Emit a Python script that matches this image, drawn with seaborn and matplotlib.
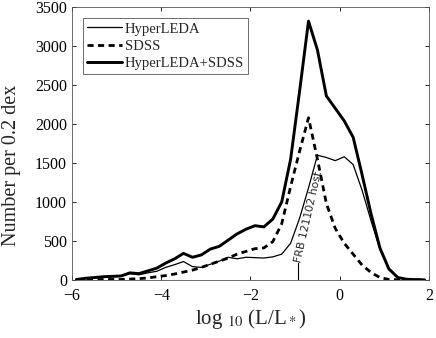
import numpy as np
import pandas as pd
import seaborn as sns
import matplotlib.pyplot as plt

# bin centres, 0.2 dex bins
logL = [-5.9, -5.7, -5.5, -5.3, -5.1, -4.9, -4.7, -4.5, -4.3, -4.1,
        -3.9, -3.7, -3.5, -3.3, -3.1, -2.9, -2.7, -2.5, -2.3, -2.1,
        -1.9, -1.7, -1.5, -1.3, -1.1, -0.9, -0.7, -0.5, -0.3, -0.1,
        0.1, 0.3, 0.5, 0.7, 0.9, 1.1, 1.3, 1.5, 1.7, 1.9]

hyperleda = [3, 15, 25, 35, 40, 45, 80, 65, 90, 110,
             160, 195, 235, 170, 160, 200, 240, 290, 270, 290,
             285, 280, 295, 330, 470, 790, 1180, 1600, 1570, 1530,
             1580, 1480, 1150, 760, 390, 150, 35, 8, 3, 0]

sdss = [0, 2, 3, 4, 5, 5, 10, 15, 25, 40,
        55, 75, 100, 125, 160, 200, 240, 280, 330, 365,
        400, 410, 490, 720, 1200, 1650, 2080, 1550, 980, 660,
        470, 330, 190, 95, 30, 5, 1, 0, 0, 0]

combined = [5, 20, 30, 40, 45, 50, 90, 80, 115, 150,
            215, 270, 340, 290, 320, 395, 430, 510, 590, 650,
            695, 680, 780, 1000, 1550, 2420, 3320, 2950, 2360, 2200,
            2040, 1830, 1350, 850, 410, 140, 30, 8, 3, 0]

frb_x = -0.93
frb_top = 215

sns.set_style("ticks")
plt.rcParams['font.family'] = ['Liberation Serif', 'DejaVu Serif']
plt.rcParams['mathtext.fontset'] = 'stix'

df = pd.DataFrame({'logL': logL, 'HyperLEDA': hyperleda,
                   'SDSS': sdss, 'HyperLEDA+SDSS': combined})

fig = plt.figure(figsize=(4.36, 3.38), dpi=100)
ax = fig.add_axes([0.165, 0.172, 0.819, 0.807])

sns.lineplot(data=df, x='logL', y='HyperLEDA', color='black', lw=0.9,
             label='HyperLEDA', ax=ax)
sns.lineplot(data=df, x='logL', y='SDSS', color='black', lw=2.0,
             label='SDSS', ax=ax)
ax.lines[-1].set_dashes((2.2, 1.6))
sns.lineplot(data=df, x='logL', y='HyperLEDA+SDSS', color='black', lw=2.1,
             label='HyperLEDA+SDSS', ax=ax)

# FRB host marker
ax.plot([frb_x, frb_x], [0, frb_top], color='black', lw=0.8)
ax.text(frb_x, frb_top + 10, 'FRB 121102 host', rotation=77, fontsize=7.8,
        family='DejaVu Sans', ha='left', va='center', rotation_mode='anchor')

ax.set_xlim(-6, 2)
ax.set_ylim(0, 3500)
ax.set_xticks([-6, -4, -2, 0, 2])
ax.set_yticks(np.arange(0, 3501, 500))
ax.tick_params(direction='in', length=3, width=0.6, top=True, right=True,
               labelsize=11.5, colors='black')
ax.tick_params(axis='x', pad=6)
for s in ax.spines.values():
    s.set_linewidth(0.6)
    s.set_color('#555555')

ax.set_xlabel(r'log $_{10}$ (L/L$_*$)', fontsize=15, labelpad=2)
ax.set_ylabel('Number per 0.2 dex', fontsize=14.5)
ax.yaxis.set_label_coords(-0.143, 0.42)

leg = ax.legend(loc='upper left', bbox_to_anchor=(0.031, 0.96), fontsize=10.5,
                handlelength=2.4, handletextpad=0.15, borderpad=0.3,
                labelspacing=0.27, fancybox=False, framealpha=1,
                edgecolor='#555555', borderaxespad=0)
leg.get_frame().set_linewidth(0.6)

fig.savefig('out.png', dpi=100)
